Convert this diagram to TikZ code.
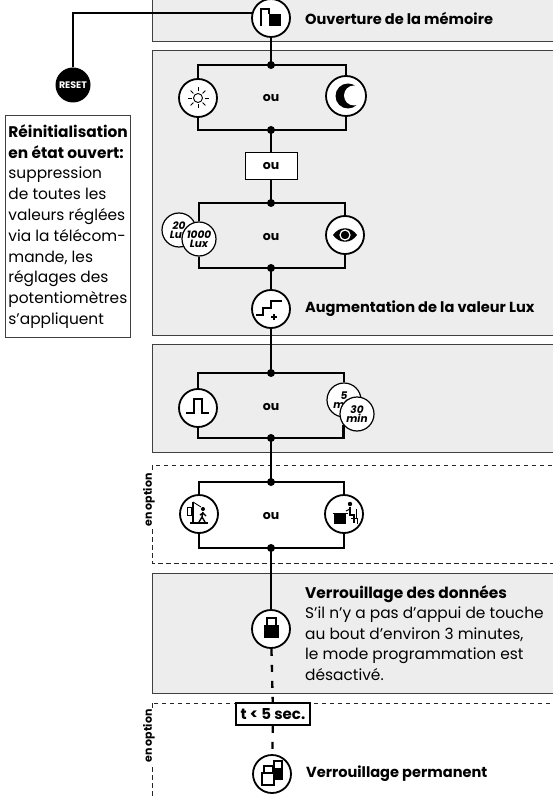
\documentclass[tikz,border=0pt]{standalone}
\usepackage{fontspec}
\setmainfont{Poppins}
\usetikzlibrary{positioning}
\begin{document}
\begin{tikzpicture}[x=1pt,y=-1pt,
  panel/.style={draw=black!75, line width=0.9pt, fill=black!7},
  optbox/.style={draw=black!85, line width=0.9pt, dash pattern=on 4.5pt off 3.5pt},
  wire/.style={line width=2.3pt},
  dashwire/.style={line width=2.3pt, dash pattern=on 7pt off 9pt},
  icon/.style={circle, draw, line width=1.8pt, fill=white, minimum size=38pt, inner sep=0pt},
  twin/.style={circle, draw, line width=1.2pt, fill=white, minimum size=34pt, inner sep=0pt, align=center, font=\fontsize{10.5}{9.5}\selectfont\bfseries\itshape},
  title/.style={font=\fontsize{14.6}{17}\selectfont\bfseries, inner sep=0pt},
  oulabel/.style={font=\fontsize{12.5}{13}\selectfont\bfseries},
  optlabel/.style={rotate=90, fill=white, inner sep=1pt, font=\fontsize{11}{11}\selectfont\bfseries}]
\useasboundingbox (0,0) rectangle (553,799);
\draw[panel] (152,-10) rectangle (570,41);
\draw[panel] (152,50) rectangle (570,335);
\draw[panel] (152,344) rectangle (570,452);
\draw[optbox] (152,465) rectangle (570,563);
\draw[panel] (152,573) rectangle (570,693);
\draw[optbox] (152,703) rectangle (570,820);
\node[optlabel] (opt1) at (149,500) {en option};
\node[optlabel] (opt2) at (149,736) {en option};

\node[circle, fill=black, minimum size=35pt, inner sep=0pt, text=white, font=\fontsize{9.5}{10}\selectfont\bfseries] (reset) at (73,85) {RESET};
\node[draw=black!75, line width=0.9pt, fill=white, anchor=north west, inner xsep=3pt, minimum height=222pt, align=left, font=\fontsize{15.4}{20.8}\selectfont] (info) at (5,115)
  {\textbf{Réinitialisation}\\ \textbf{en état ouvert:}\\ suppression\\ de toutes les\\ valeurs réglées\\ via la télécom-\\ mande, les\\ réglages des\\ potentiomètres\\ s’appliquent};

\node[icon] (mem) at (271,18) {};
\node[icon] (sun) at (198,98) {};
\node[icon, minimum size=40pt] (moon) at (346,96) {};
\node[draw, line width=1pt, fill=white, minimum width=52pt, minimum height=27pt, oulabel] (oubox) at (271,166.5) {ou};
\node[twin] (lux20) at (179,230) {20\\Lux};
\node[twin] (lux1000) at (199,239) {1000\\Lux};
\node[icon] (eye) at (345,235) {};
\node[icon] (aug) at (271,309) {};
\node[icon] (pulse) at (198,408) {};
\node[twin] (t5) at (344,400) {5\\min};
\node[twin] (t30) at (357,414) {30\\min};
\node[icon] (door) at (199,514) {};
\node[icon] (desk) at (344,514) {};
\node[icon] (lock) at (271,629) {};
\node[draw, line width=1.8pt, fill=white, minimum width=74pt, minimum height=22pt, inner sep=0pt, font=\fontsize{15}{15}\selectfont\bfseries] (tbox) at (273,714) {t < 5 sec.};
\node[icon] (perm) at (272,774) {};

\node[oulabel] (ou1) at (271,98) {ou};
\node[oulabel] (ou2) at (271,237) {ou};
\node[oulabel] (ou3) at (271,407) {ou};
\node[oulabel] (ou4) at (271,516) {ou};

\node[title, right=14pt of mem] (memtxt) {Ouverture de la mémoire};
\node[title, right=14pt of aug] (augtxt) {Augmentation de la valeur Lux};
\node[title, right=14pt of perm] (permtxt) {Verrouillage permanent};
\node[anchor=north west, align=left, inner sep=0pt, font=\fontsize{15.4}{20.6}\selectfont] (locktxt) at (305,585)
  {\textbf{Verrouillage des données}\\ S’il n’y a pas d’appui de touche\\ au bout d’environ 3 minutes,\\ le mode programmation est\\ désactivé.};

\coordinate (j1t) at (271,65);
\coordinate (j1b) at (271,130);
\coordinate (j2t) at (271,203);
\coordinate (j2b) at (271,268);
\coordinate (j3t) at (271,373);
\coordinate (j3b) at (271,438);
\coordinate (j4t) at (271,482);
\coordinate (j4b) at (271,548);

\draw[wire] (reset.north) |- (mem.165);
\draw[wire] (mem) -- (j1t);
\draw[wire] (sun) |- (j1t) -| (moon);
\draw[wire] (sun) |- (j1b) -| (moon);
\draw[wire] (j1b) -- (oubox);
\draw[wire] (oubox) -- (j2t);
\draw[wire] (lux1000) |- (j2t) -| (eye);
\draw[wire] (lux1000) |- (j2b) -| (eye);
\draw[wire] (j2b) -- (aug) -- (j3t);
\draw[wire] (pulse) |- (j3t) -| (t5);
\draw[wire] (pulse) |- (j3b) -| (t30.220);
\draw[wire] (j3b) -- (j4t);
\draw[wire] (door) |- (j4t) -| (desk);
\draw[wire] (door) |- (j4b) -| (desk);
\draw[wire] (j4b) -- (lock);
\draw[dashwire] (lock) -- (tbox);
\draw[dashwire] (tbox) -- (perm);
\foreach \j in {j1t,j1b,j2t,j2b,j3t,j3b,j4t,j4b}
  \fill (\j) circle (4);

\begin{scope}[shift={(mem)}]
\draw[line width=1.4pt] (-10,8) -- (-10,-9) -- (-2,-9) -- (-2,-4);
\fill (-2,-4) rectangle (10,8);
\end{scope}
\begin{scope}[shift={(sun)}]
\draw[line width=0.9pt] (0,0) circle (4.5);
\foreach \a in {0,45,...,315}
  \draw[line width=0.9pt] (\a:6.5) -- (\a:10.5);
\end{scope}
\begin{scope}[shift={(moon)}]
\fill (2,0) circle (12.5);
\fill[white] (8,-0.5) circle (10);
\end{scope}
\begin{scope}[shift={(eye)}]
\fill (-12,0) .. controls (-6,-9) and (6,-9) .. (12,0) .. controls (6,9) and (-6,9) .. (-12,0) -- cycle;
\draw[white, line width=1.2pt] (0,0) circle (5);
\end{scope}
\begin{scope}[shift={(aug)}]
\draw[line width=2pt] (-15,6) -- (-8,6) -- (-8,-1) -- (0,-1) -- (0,-8) -- (11,-8);
\draw[line width=1.2pt] (0,8) -- (6,8) (3,5) -- (3,11);
\end{scope}
\begin{scope}[shift={(pulse)}]
\draw[line width=2pt] (-12,5) -- (-4,5) -- (-4,-9) -- (4,-9) -- (4,5) -- (11,5);
\end{scope}
\begin{scope}[shift={(door)}]
\draw[line width=0.8pt] (-12,-7) rectangle (-8,1);
\draw[line width=1.2pt] (-6,-12) -- (-6,9) (-9,9) -- (9,9);
\draw[line width=0.8pt] (-6,-12) -- (2,-7);
\fill (4,-5) circle (2);
\draw[line width=1.4pt] (4,-2) -- (3,3) -- (0,8) (3,3) -- (6,8) (1,1) -- (4,-1) -- (7,2);
\end{scope}
\begin{scope}[shift={(desk)}]
\fill (-10,-1) rectangle (2,10);
\draw[line width=1pt] (-11,-1) -- (4,-1);
\fill (6,-10) circle (2.2);
\draw[line width=1.8pt] (6,-7) -- (6,1) -- (10,1) -- (10,9);
\draw[line width=1pt] (6,-5) -- (2,-3);
\draw[line width=0.8pt] (12,-5) -- (12,4) (7,4) -- (13,4) -- (13,10);
\end{scope}
\begin{scope}[shift={(lock)}]
\fill (-7.5,-4) rectangle (7.5,9);
\draw[line width=2pt] (-4.5,-4) -- (-4.5,-11) -- (4.5,-11) -- (4.5,-4);
\end{scope}
\begin{scope}[shift={(perm)}, line width=1.2pt]
\fill (0,-6) rectangle (11,6);
\draw[fill=white] (2,-13) rectangle (10,-5);
\draw[fill=white] (-8,-8) rectangle (1,1);
\draw[fill=white] (-10,-1) rectangle (2,11);
\end{scope}
\end{tikzpicture}
\end{document}
